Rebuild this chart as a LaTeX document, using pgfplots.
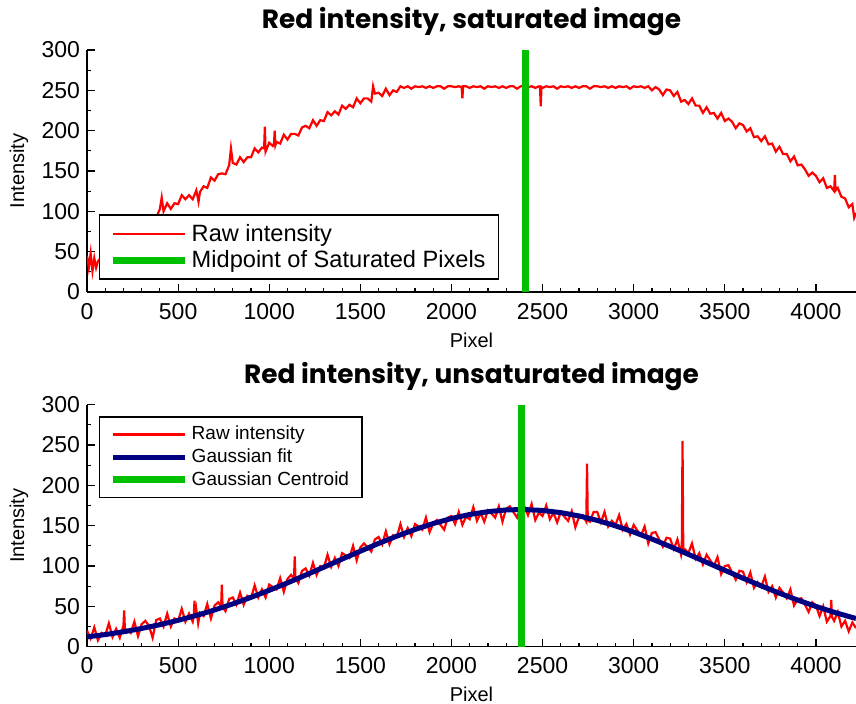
\documentclass[border=0pt]{standalone}
\usepackage{fontspec}
\setmainfont{Liberation Sans}
\newfontfamily\titlefont{Poppins}
\usepackage{pgfplots}
\pgfplotsset{compat=1.18}
\definecolor{mygreen}{RGB}{0,192,0}
\definecolor{mynavy}{RGB}{0,0,128}
\pgfplotsset{
  base/.style={
    width=384.5pt, height=121pt, scale only axis,
    xmin=0,xmax=4220,ymin=0,ymax=300,
    axis x line*=bottom, axis y line*=left,
    tick align=inside,
    xtick={0,500,...,4000}, ytick={0,50,...,300},
    minor x tick num=4, minor y tick num=1,
    major tick length=4pt, minor tick length=2pt,
    every tick/.style={black, line width=0.6pt},
    axis line style={line width=0.6pt},
    tick label style={font=\fontsize{11.5}{13}\selectfont},
    xticklabel style={yshift=-2pt},
    /pgf/number format/assume math mode=true,
    /pgf/number format/1000 sep={},
    xlabel=Pixel, ylabel=Intensity,
    label style={font=\titlefont\fontsize{9}{11}\selectfont},
    every axis x label/.style={at={(axis description cs:0.5,0)},anchor=center,yshift=-24pt},
    every axis y label/.style={at={(axis description cs:-0.0884,0.5)},anchor=center,rotate=90},
    title style={font=\titlefont\bfseries\fontsize{13.2}{15}\selectfont, anchor=base, yshift=4.5pt},
    legend cell align=left,
    legend image code/.code={\draw[#1] (0pt,0pt) -- (36pt,0pt);},
  }
}
\begin{document}
\begin{tikzpicture}
\useasboundingbox (0,0) rectangle (428pt,352pt);
% ---------- top ----------
\begin{axis}[base, at={(43.5pt,206pt)}, anchor=south west,
  title={Red intensity, saturated image},
  legend style={at={(0.0156,0.05)}, anchor=south west, draw=black, line width=0.75pt, fill=white,
    font=\fontsize{11.8}{14.5}\selectfont, inner xsep=5pt, inner ysep=3pt, nodes={inner sep=1.5pt},
    /tikz/every even column/.append style={column sep=2pt}}]
\addplot[red, line width=1.1pt] coordinates {
(0,45)(10,30)(20,48)(30,26)(40,42)(50,30)(60,38)(80,44)(100,46)(150,52)(200,60)(250,68)(300,76)(350,86)(380,92)
(400,103)(410,117)(420,100)(440,110)(460,103)(480,110)(500,109)(520,120)(540,115)(560,120)(580,115)(600,126)(612,112)(620,124)(640,131)(660,129)(680,142)(700,138)(720,146)(740,147)(760,146)(780,157)(790,178)(800,160)(820,158)(840,167)(860,161)(880,167)(900,167)(920,178)(940,173)(960,179)(972,178)(976,205)(980,174)(1000,185)(1020,181)(1026,183)(1030,200)(1034,182)(1040,186)(1060,184)(1080,195)(1100,189)(1120,196)(1140,196)(1160,194)(1180,204)(1200,206)(1220,203)(1240,213)(1260,206)(1280,213)(1300,212)(1320,223)(1340,219)(1360,224)(1380,220)(1400,231)(1420,227)(1440,232)(1460,229)(1480,240)(1500,234)(1520,240)(1540,240)(1560,236)(1570,255)(1580,246)(1600,247)(1620,243)(1640,252)(1660,244)(1680,250)(1700,248)(1720,255)(1740,253)(1760,255)
(1780,252)(1800,255)(1820,254)(1840,255)(1860,253)(1880,255)(1900,253)(1920,255)(1940,255)(1960,252)(1980,255)(2000,255)(2020,254)(2040,255)(2056,254)(2060,240)(2064,255)(2080,255)(2100,253)(2120,255)(2140,254)(2160,255)(2180,252)(2200,255)(2220,254)(2240,255)(2260,253)(2280,255)(2300,253)(2320,255)(2340,255)(2360,252)(2380,255)(2400,255)(2420,254)(2440,255)(2460,253)(2480,255)(2486,254)(2490,230)(2494,254)(2500,253)(2520,255)(2540,254)(2560,255)(2580,252)(2600,255)(2620,254)(2640,255)(2660,253)(2680,255)(2700,253)(2720,255)(2740,255)(2760,252)(2780,255)(2800,255)(2820,254)(2840,255)(2860,253)(2880,255)(2900,253)(2920,255)(2940,254)(2960,255)(2980,252)(3000,255)(3020,254)(3040,255)(3060,253)(3080,255)
(3100,250)(3120,254)(3140,251)(3160,244)(3180,251)(3200,250)(3220,243)(3240,248)(3260,236)(3280,238)(3300,233)(3320,240)(3340,231)(3360,231)(3380,222)(3400,229)(3420,221)(3440,222)(3460,215)(3480,222)(3500,212)(3520,215)(3540,211)(3560,203)(3580,209)(3600,207)(3620,199)(3640,203)(3660,192)(3680,193)(3700,187)(3720,193)(3740,183)(3760,184)(3780,174)(3800,180)(3820,171)(3840,171)(3860,162)(3880,168)(3900,157)(3920,158)(3940,152)(3960,144)(3980,148)(4000,144)(4020,136)(4040,141)(4060,129)(4080,131)(4100,125)(4104,145)(4108,126)(4120,129)(4140,118)(4160,116)(4180,105)(4200,109)(4210,92)(4220,98)
};
\addlegendentry{Raw intensity}
\addplot[mygreen, line width=3.5pt] coordinates {(2404,0) (2404,300)};
\addlegendentry{Midpoint of Saturated Pixels}
\end{axis}
% ---------- bottom ----------
\begin{axis}[base, at={(43.5pt,28.65pt)}, anchor=south west,
  title={Red intensity, unsaturated image},
  legend style={at={(0.0156,0.952)}, anchor=north west, draw=black, line width=0.75pt, fill=white,
    font=\fontsize{9.5}{12}\selectfont, inner xsep=5pt, inner ysep=3pt, nodes={inner sep=1.5pt},
    /tikz/every even column/.append style={column sep=2pt}}]
\addplot[red, line width=1.1pt] coordinates {
(0,20)(20,10)(40,24)(60,8)(80,17)(100,14)(120,29)(140,12)(160,22)(180,11)(200,26)(204,45)(208,21)(220,21)(240,17)(260,31)(280,13)(300,28)(320,32)(340,26)(360,11)(380,33)
(400,35)(420,25)(440,41)(460,25)(480,35)(500,32)(520,47)(540,31)(560,41)(580,31)(586,38)(590,57)(594,36)(600,46)(610,29)(620,42)(640,38)(660,53)(680,35)(700,51)(720,55)(736,50)(740,77)(744,49)(760,44)(780,59)
(800,61)(820,52)(840,67)(860,52)(880,63)(900,60)(920,76)(940,61)(960,71)(980,61)(1000,77)(1020,74)(1040,71)(1060,85)(1080,68)(1100,84)(1120,89)(1136,84)(1140,112)(1144,85)(1160,79)(1180,94)
(1200,97)(1220,88)(1240,104)(1260,89)(1280,100)(1300,98)(1320,114)(1340,99)(1360,110)(1380,100)(1400,116)(1420,113)(1440,110)(1460,125)(1480,107)(1500,123)(1520,128)(1540,123)(1560,118)(1580,133)
(1600,136)(1620,127)(1640,143)(1660,127)(1680,138)(1700,136)(1720,152)(1740,136)(1760,147)(1780,137)(1800,152)(1820,149)(1840,145)(1860,160)(1880,142)(1900,153)(1920,157)(1940,151)(1960,145)(1980,160)
(2000,162)(2020,152)(2040,167)(2060,151)(2080,161)(2100,158)(2120,173)(2140,156)(2160,166)(2180,155)(2200,169)(2220,165)(2240,160)(2260,174)(2280,155)(2300,171)(2320,174)(2340,167)(2360,160)(2380,173)
(2400,174)(2420,163)(2440,177)(2460,157)(2480,166)(2500,162)(2520,175)(2540,158)(2560,166)(2580,154)(2600,167)(2620,161)(2640,156)(2660,168)(2680,148)(2700,161)(2720,163)(2740,155)(2744,227)(2748,157)(2760,155)(2780,167)
(2800,167)(2820,154)(2840,167)(2860,149)(2880,156)(2900,151)(2920,163)(2940,145)(2960,152)(2980,139)(3000,151)(3020,144)(3040,138)(3060,149)(3080,128)(3100,141)(3120,142)(3140,133)(3160,124)(3180,135)
(3200,134)(3220,121)(3240,133)(3260,114)(3264,120)(3268,255)(3272,122)(3280,121)(3300,116)(3320,128)(3340,109)(3360,116)(3380,102)(3400,114)(3420,107)(3440,100)(3460,111)(3480,90)(3500,100)(3520,101)(3540,92)(3560,83)(3580,94)
(3600,93)(3620,80)(3640,92)(3660,73)(3680,80)(3700,74)(3720,87)(3740,68)(3760,75)(3780,61)(3800,73)(3820,67)(3840,60)(3860,71)(3880,51)(3900,59)(3920,60)(3940,52)(3960,43)(3980,55)
(4000,51)(4020,38)(4040,50)(4060,31)(4080,38)(4084,58)(4088,37)(4100,32)(4120,43)(4140,25)(4160,32)(4180,19)(4200,30)(4220,23)
};
\addlegendentry{Raw intensity}
\addplot[mynavy, line width=2.5pt] coordinates {
(0,12.1)(100,15.0)(200,18.5)(300,22.6)(400,27.3)(500,32.7)(600,38.7)(700,45.5)(800,53.0)(900,61.2)(1000,69.9)(1100,79.1)(1200,88.8)(1300,98.6)(1400,108.6)(1500,118.4)(1600,128.0)(1700,137.0)(1800,145.3)(1900,152.7)(2000,158.9)(2100,163.9)(2200,167.4)(2300,169.5)(2380,170.0)(2400,170.0)(2500,168.9)(2600,166.2)(2700,162.1)(2800,156.6)(2900,149.8)(3000,142.1)(3100,133.5)(3200,124.2)(3300,114.5)(3400,104.6)(3500,94.7)(3600,84.9)(3700,75.4)(3800,66.3)(3900,57.8)(4000,49.9)(4100,42.7)(4200,36.2)(4220,35.0)
};
\addlegendentry{Gaussian fit}
\addplot[mygreen, line width=3.5pt] coordinates {(2386,0) (2386,300)};
\addlegendentry{Gaussian Centroid}
\end{axis}
\end{tikzpicture}
\end{document}
